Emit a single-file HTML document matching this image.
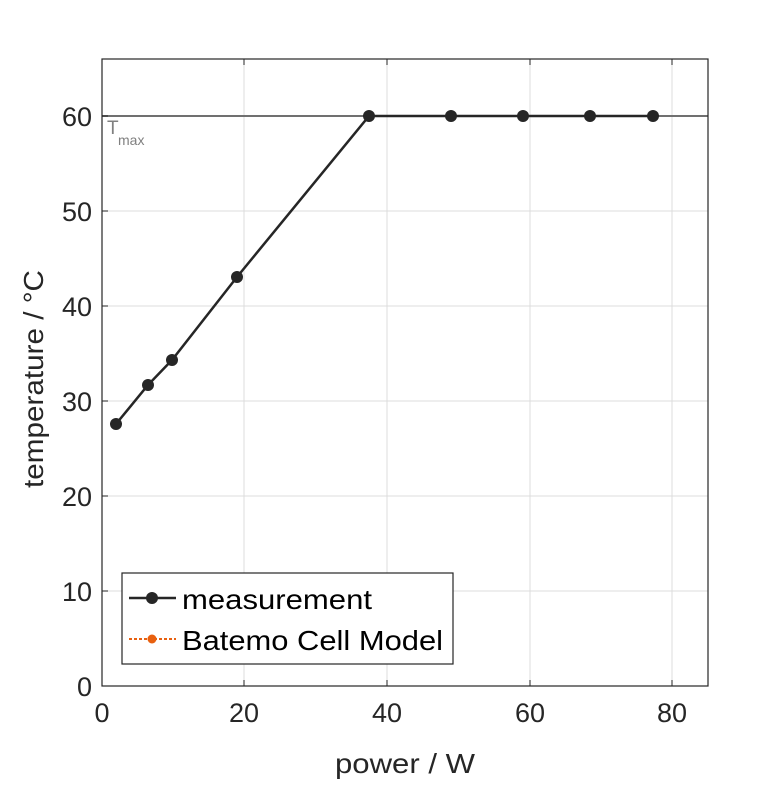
<!DOCTYPE html>
<html><head><style>body{margin:0;background:#fff}</style></head><body>
<svg width="781" height="781" xmlns="http://www.w3.org/2000/svg" font-family="Liberation Sans, sans-serif">
<rect width="781" height="781" fill="#fff"/>
<g stroke="#dcdcdc" stroke-width="1">
<line x1="244" y1="59" x2="244" y2="686"/><line x1="387" y1="59" x2="387" y2="686"/><line x1="530" y1="59" x2="530" y2="686"/><line x1="672" y1="59" x2="672" y2="686"/>
<line x1="102" y1="591" x2="708" y2="591"/><line x1="102" y1="496" x2="708" y2="496"/><line x1="102" y1="401" x2="708" y2="401"/><line x1="102" y1="306" x2="708" y2="306"/><line x1="102" y1="211" x2="708" y2="211"/><line x1="102" y1="116" x2="708" y2="116"/>
</g>
<line x1="102" y1="116" x2="708" y2="116" stroke="#707070" stroke-width="2"/>
<text x="107" y="134" font-size="19" fill="#808080">T</text><text x="118" y="145" font-size="14" fill="#808080">max</text>
<polyline points="116,424 148,385 172,360 237,277 369,116 451,116 523,116 590,116 653,116" fill="none" stroke="#262626" stroke-width="2.5"/>
<g fill="#262626"><circle cx="116" cy="424" r="6"/><circle cx="148" cy="385" r="6"/><circle cx="172" cy="360" r="6"/><circle cx="237" cy="277" r="6"/><circle cx="369" cy="116" r="6"/><circle cx="451" cy="116" r="6"/><circle cx="523" cy="116" r="6"/><circle cx="590" cy="116" r="6"/><circle cx="653" cy="116" r="6"/></g>
<rect x="102" y="59" width="606" height="627" fill="none" stroke="#262626" stroke-width="1.2"/>
<g stroke="#262626" stroke-width="1">
<line x1="244" y1="686" x2="244" y2="680"/><line x1="387" y1="686" x2="387" y2="680"/><line x1="530" y1="686" x2="530" y2="680"/><line x1="672" y1="686" x2="672" y2="680"/>
<line x1="244" y1="59" x2="244" y2="65"/><line x1="387" y1="59" x2="387" y2="65"/><line x1="530" y1="59" x2="530" y2="65"/><line x1="672" y1="59" x2="672" y2="65"/>
<line x1="102" y1="591" x2="108" y2="591"/><line x1="102" y1="496" x2="108" y2="496"/><line x1="102" y1="401" x2="108" y2="401"/><line x1="102" y1="306" x2="108" y2="306"/><line x1="102" y1="211" x2="108" y2="211"/><line x1="102" y1="116" x2="108" y2="116"/>
</g>
<g font-size="27" fill="#262626" text-anchor="middle">
<text x="102" y="722">0</text><text x="244" y="722">20</text><text x="387" y="722">40</text><text x="530" y="722">60</text><text x="672" y="722">80</text>
</g>
<g font-size="27" fill="#262626" text-anchor="end">
<text x="92" y="696">0</text><text x="92" y="601">10</text><text x="92" y="506">20</text><text x="92" y="411">30</text><text x="92" y="316">40</text><text x="92" y="221">50</text><text x="92" y="126">60</text>
</g>
<text x="335" y="773" font-size="28" fill="#262626" textLength="140" lengthAdjust="spacingAndGlyphs">power / W</text>
<text transform="translate(43,488) rotate(-90)" font-size="28" fill="#262626" textLength="218" lengthAdjust="spacingAndGlyphs">temperature / °C</text>
<rect x="122" y="573" width="331" height="91" fill="#fff" stroke="#262626" stroke-width="1.2"/>
<line x1="129" y1="598" x2="176" y2="598" stroke="#262626" stroke-width="2.5"/><circle cx="152" cy="598" r="6" fill="#262626"/>
<text x="182" y="609" font-size="28" fill="#000" textLength="190" lengthAdjust="spacingAndGlyphs">measurement</text>
<line x1="129" y1="639" x2="176" y2="639" stroke="#e8600f" stroke-width="2" stroke-dasharray="3,2"/><circle cx="152" cy="639" r="4.5" fill="#e8600f"/>
<text x="182" y="650" font-size="28" fill="#000" textLength="261" lengthAdjust="spacingAndGlyphs">Batemo Cell Model</text>
</svg>
</body></html>
